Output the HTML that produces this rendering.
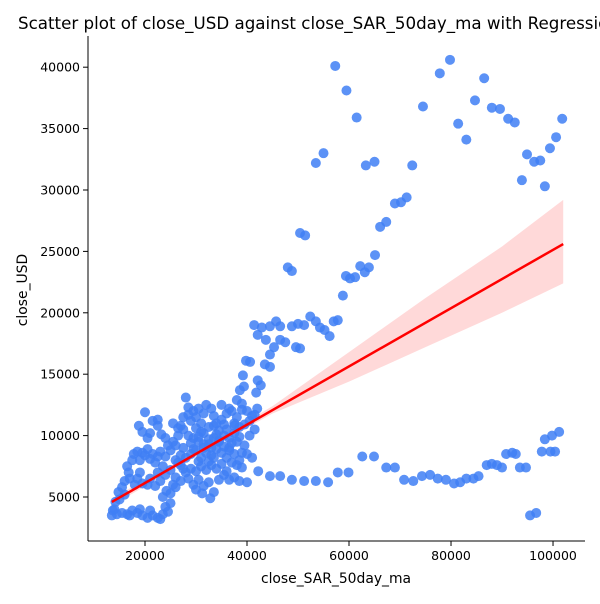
<!DOCTYPE html>
<html><head><meta charset="utf-8"><style>
body{margin:0;background:#fff;font-family:"DejaVu Sans","Liberation Sans",sans-serif}
svg text{font-family:"DejaVu Sans","Liberation Sans",sans-serif}
</style></head><body>
<svg id="chart" width="600" height="600" xmlns="http://www.w3.org/2000/svg">
<rect width="600" height="600" fill="#fff"/>
<text x="18" y="29" font-size="16.7" fill="#000">Scatter plot of close_USD against close_SAR_50day_ma with Regression Line</text>
<g id="band"></g>
<g id="pts"></g>
<g id="reg"></g>
<g id="axes"></g>
<text x="336" y="583" font-size="13.9" text-anchor="middle">close_SAR_50day_ma</text>
<text transform="translate(27,290) rotate(-90)" font-size="13.9" text-anchor="middle">close_USD</text>
</svg>
<script>
// values in thousands
const xTicks=[20,40,60,80,100];
const xTickLabels=["20000","40000","60000","80000","100000"];
const yTicks=[5,10,15,20,25,30,35,40];
const yTickLabels=["5000","10000","15000","20000","25000","30000","35000","40000"];
const pointsX=[57.3,59.5,61.5,55,53.5,63.3,65,69,70.2,71.3,66.1,67.3,65.1,63.9,63.1,62.2,60.2,61.2,59.4,58.8,57.8,57,56.2,55.2,54.3,53.5,52.4,51.2,50,48.8,48,48.8,50.4,51.4,46.5,45.7,44.5,42.9,42.1,43.7,44.5,45.3,49.6,50.4,46.5,47.5,41.4,43.5,44.5,42.1,42.7,41.8,39.8,40.6,39.2,38.6,39.4,38,39,
72.4,74.5,77.8,79.8,81.4,84.7,86.5,83,88,89.6,91.2,92.5,94.9,93.9,96.3,97.5,98.4,99.4,100.6,101.8,
42.2,44.5,46.5,48.8,51.2,53.5,55.9,57.8,59.9,62.6,64.9,67.3,69,70.8,72.6,74.3,75.9,77.4,79,80.6,81.8,83,84.4,85.4,87,88,89,90,90.8,92,92.7,93.5,94.7,95.5,96.7,97.8,98.4,99.5,99.8,100.4,101.2,
13.5,14,14.5,15.5,16.5,17.5,18.5,19.5,20.5,21.5,22.5,23.5,24,25,23,21,17,19,24.5,13.7,14.2,15,16,14.8,
15.5,16,16.8,16.5,17,18,18.5,19,17.5,17.8,18.5,19,19.5,20,20.5,21,21.5,22,22.5,23,20.5,21,19.5,18.8,20,21.5,22.5,22.5,23.2,24,24.5,25,25.5,24,23.5,22.5,21,20.5,19.5,22,23,24,25,26,25.5,24.2,23.5,25,26,27,26.5,27.5,
26,26.5,27,27.5,28,28.5,29,29.5,30,30.5,31,31.5,32,33,33.5,34,35,36,37,38,39,40,41,41.5,40.5,39.5,40,41,38.5,37.5,36.5,35.5,34.5,33.5,32.5,31.5,30.5,29.5,28.5,27.5,28,29,30,31,32,33,34,35,36,37,38,39,27,28,29,30,31,32,33,34,35,36,28.5,29.5,30.5,31.5,32.5,33.5,32.8,31.2,30,34.5,35.5,36.5,37.5,38.5,40,31,32.5,34,36,37.5,38.5,39.5,40.5,41.5,42,30,27,26,35,36.5,33,29,38,39,37,
30.5,31.5,32.5,33.5,34.5,35.5,36.5,37.5,29.5,30.5,31.5,32.5,33.5,34.5,35.5,36.5,37.5,38.5,27.5,28.5,26.5,25.5];
const pointsY=[40.1,38.1,35.9,33,32.2,32,32.3,28.9,29,29.4,27,27.4,24.7,23.7,23.3,23.8,22.8,22.9,23,21.4,19.4,19.3,18.1,18.6,18.8,19.3,19.7,19,19.1,18.9,23.7,23.4,26.5,26.3,18.9,19.3,18.9,18.8,18.2,17.8,16.6,17.2,17.2,17.1,17.8,17.6,19,15.8,15.6,14.5,14.1,13.5,16.1,16,14.9,13.7,14,12.9,12.6,
32,36.8,39.5,40.6,35.4,37.3,39.1,34.1,36.7,36.6,35.8,35.5,32.9,30.8,32.3,32.4,30.3,33.4,34.3,35.8,
7.1,6.7,6.7,6.4,6.3,6.3,6.2,7,7,8.3,8.3,7.4,7.4,6.4,6.3,6.7,6.8,6.5,6.4,6.1,6.2,6.5,6.5,6.7,7.6,7.7,7.6,7.4,8.5,8.6,8.5,7.4,7.4,3.5,3.7,8.7,9.7,8.7,10,8.7,10.3,
3.5,4,3.6,3.7,3.6,3.9,3.7,3.5,3.3,3.5,3.3,3.6,4.2,4.5,3.2,3.9,3.5,4,3.8,3.9,4.6,4.8,5.2,5.4,
5.8,6.3,7,7.5,6.5,6,6.5,7,8,8.5,8.7,8,8.6,8.4,8.9,8.1,8.5,7.8,8.3,8.7,9.8,10.2,10.3,10.8,11.9,11.2,11.3,10.8,10.1,9.8,9.2,8.8,9.5,8.3,7.5,7,6.5,6,6.1,5.9,6.3,6.8,7.2,6.6,6,5.5,5,5.3,5.8,6.3,7.8,7.3,
9.2,10,10.8,11.5,13.1,12.3,11.2,12,11.5,12.2,11,11.8,12.5,12.2,11.6,11,11.3,11.8,12,11.5,12.1,12,11.6,10.5,10,9.2,8.5,8.2,8,8.5,9,10,10.4,9.8,9.3,9,9.5,9.8,10,9,8.2,8.5,8.8,8.2,8.6,8.4,8.9,8.6,8.2,7.8,7.6,7.4,7.6,7,7.3,7.1,7.5,7.2,7.6,7.3,7.7,7.1,6.5,6,6.4,5.9,6.2,5.4,4.9,5.3,5.6,6.4,6.8,6.4,6.6,6.3,6.2,10.3,10.7,10.1,10.5,10.2,10.7,10.9,11.2,11.7,12.2,10.6,8.4,8,12.5,12.2,9,9.4,9.5,8.6,9.4,
9.9,10.2,9.7,10.8,9.5,10.9,9.8,11,8.9,7.9,9.3,7.9,8.2,9.6,9.1,8.8,10.8,9.9,10.5,11.7,10.6,11];
const regX=[13.5,102];
const regY=[4.6,25.6];
const ciX=[13.5,30,45,60,75,90,102];
const ciUpper=[4.9,8.7,12.4,16.8,21.2,25.4,29.2];
const ciLower=[4.3,8.3,11.8,14.4,17.2,20.0,22.4];

const L=88,R=585,T=36,B=541;
const xMin=8.824,xMax=106.27,yMin=1.417,yMax=42.54;
const sx=v=>L+(v-xMin)/(xMax-xMin)*(R-L);
const sy=v=>B-(v-yMin)/(yMax-yMin)*(B-T);
const NS="http://www.w3.org/2000/svg";
function mk(t,a,p){const e=document.createElementNS(NS,t);for(const k in a)e.setAttribute(k,a[k]);p.appendChild(e);return e;}

let d="";
ciX.forEach((x,i)=>{d+=(i?"L":"M")+sx(x)+","+sy(ciUpper[i]);});
for(let i=ciX.length-1;i>=0;i--)d+="L"+sx(ciX[i])+","+sy(ciLower[i]);
const band=mk("path",{d:d+"Z",fill:"#ff0000","fill-opacity":"0.15",stroke:"none"},document.getElementById("band"));



const pg=document.getElementById("pts");
pointsX.forEach((x,i)=>{
  const c=mk("circle",{cx:sx(x),cy:sy(pointsY[i]),r:5,fill:"#3f7ff5","fill-opacity":"0.85"},pg);
  
  
});

const ln=mk("line",{x1:sx(regX[0]),y1:sy(regY[0]),x2:sx(regX[1]),y2:sy(regY[1]),stroke:"#ff0000","stroke-width":"2.5"},document.getElementById("reg"));



const ax=document.getElementById("axes");
const ys=mk("line",{x1:L,y1:T,x2:L,y2:B,stroke:"#000","stroke-width":"1"},ax);


const xs=mk("line",{x1:L,y1:B,x2:R,y2:B,stroke:"#000","stroke-width":"1"},ax);


xTicks.forEach((v,i)=>{
  const x=sx(v);
  const t=mk("line",{x1:x,y1:B,x2:x,y2:B+5,stroke:"#000"},ax);
  
  
  const tx=mk("text",{x:x,y:B+19,"font-size":"12.5","text-anchor":"middle"},ax);
  tx.textContent=xTickLabels[i];
  
  
});
yTicks.forEach((v,i)=>{
  const y=sy(v);
  const t=mk("line",{x1:L-5,y1:y,x2:L,y2:y,stroke:"#000"},ax);
  
  
  const tx=mk("text",{x:L-8,y:y+4.5,"font-size":"12.5","text-anchor":"end"},ax);
  tx.textContent=yTickLabels[i];
  
  
});
</script>
</body></html>
